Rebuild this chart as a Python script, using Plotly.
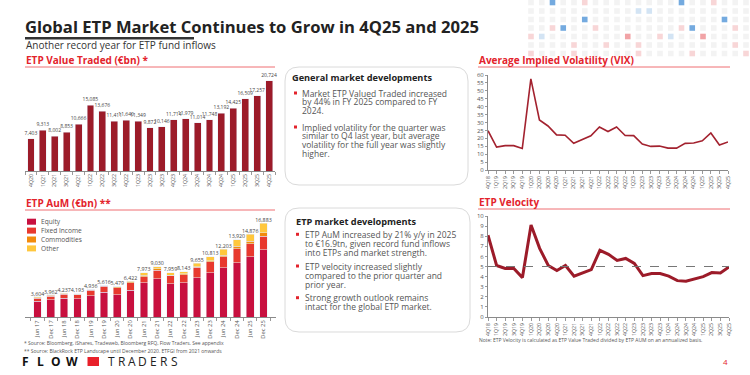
import plotly.graph_objects as go

W, H = 750, 375
FONT = "Open Sans, sans-serif"

# ---------------- data ----------------
vt_quarters = ["4Q20", "1Q21", "2Q21", "3Q21", "4Q21", "1Q22", "2Q22", "3Q22", "4Q22", "1Q23", "2Q23",
               "3Q23", "4Q23", "1Q24", "2Q24", "3Q24", "4Q24", "1Q25", "2Q25", "3Q25", "4Q25"]
value_traded = [7403, 9313, 8002, 8853, 10666, 15085, 13676, 11411, 11640, 11349, 9872,
                10146, 11714, 11979, 11014, 11748, 13192, 14425, 16509, 17257, 20724]

long_quarters = ["4Q18", "1Q19", "2Q19", "3Q19", "4Q19", "1Q20", "2Q20", "3Q20", "4Q20", "1Q21",
                 "2Q21", "3Q21", "4Q21", "1Q22", "2Q22", "3Q22", "4Q22", "1Q23", "2Q23", "3Q23",
                 "4Q23", "1Q24", "2Q24", "3Q24", "4Q24", "1Q25", "2Q25", "3Q25", "4Q25"]
vix = [24.8, 14.5, 15.4, 15.4, 13.6, 57.5, 31.6, 27.8, 22.2, 22.0, 16.9, 19.4, 21.6, 27.2, 24.3,
       27.2, 21.8, 21.7, 16.4, 14.9, 15.1, 13.8, 13.8, 16.8, 17.1, 18.4, 23.4, 15.8, 17.7]
velocity = [8.1, 5.1, 4.8, 4.8, 3.9, 9.1, 6.8, 5.1, 4.6, 5.1, 4.05, 4.35, 4.7, 6.6, 6.2,
            5.6, 5.8, 5.3, 4.1, 4.3, 4.3, 4.05, 3.6, 3.55, 3.8, 4.0, 4.4, 4.35, 4.95]
velocity_reference = 5

aum_periods = ["Jun 17", "Dec 17", "Jun 18", "Dec 18", "Jun 19", "Dec 19", "Jun 20", "Dec 20", "Jun 21",
               "Dec 21", "Jun 22", "Dec 22", "Jun 23", "Dec 23", "Jun 24", "Dec 24", "Jun 25", "Dec 25"]
aum_equity = [2800, 3110, 3350, 3240, 3850, 4430, 4010, 4850, 6150, 6830, 5930, 6110, 7070, 7920, 8810, 9710, 10790, 12100]
aum_fixed_income = [570, 650, 720, 750, 950, 1080, 1260, 1300, 1100, 1550, 1440, 1490, 1850, 2000, 2000, 2520, 2340, 2400]
aum_commodities = [130, 120, 100, 110, 80, 60, 120, 150, 240, 250, 150, 180, 130, 150, 240, 470, 470, 600]
aum_other = [104, 82, 67, 93, 56, 46, 89, 122, 483, 400, 439, 363, 605, 743, 1153, 1220, 1276, 1783]
aum_series_names = ["Equity", "Fixed Income", "Commodities", "Other"]

box1_title = "General market developments"
box1_lines = [("Market ETP Valued Traded increased", True), ("by 44% in FY 2025 compared to FY", False),
              ("2024.", False), ("Implied volatility for the quarter was", True),
              ("similar to Q4 last year, but average", False), ("volatility for the full year was slightly", False),
              ("higher.", False)]
box2_title = "ETP market developments"
box2_lines = [("ETP AuM increased by 21% y/y in 2025", True), ("to €16.9tn, given record fund inflows", False),
              ("into ETPs and market strength.", False), ("ETP velocity increased slightly", True),
              ("compared to the prior quarter and", False), ("prior year.", False),
              ("Strong growth outlook remains", True), ("intact for the global ETP market.", False)]

# ---------------- styles ----------------
DARK_RED = "#9C1B29"
LINE_RED = "#A3222F"
HEAD_RED = "#E3232C"
EQ_C, FI_C, CO_C, OT_C = "#C8103F", "#E8392E", "#F28B0C", "#FFC73D"
aum_colors = [EQ_C, FI_C, CO_C, OT_C]
TXT = "#555555"


def px(x):
    return x / W


def py(y):
    return 1 - y / H


def dom_x(a, b):
    return [px(a), px(b)]


def dom_y(top, bottom):
    return [py(bottom), py(top)]


fig = go.Figure()

# Value traded bars
fig.add_trace(go.Bar(x=vt_quarters, y=value_traded, marker_color=DARK_RED, texttemplate="%{y:,.0f}",
                     textposition="outside", constraintext="none", cliponaxis=False,
                     textfont=dict(size=5, color="#444", family=FONT), xaxis="x", yaxis="y",
                     showlegend=False, hoverinfo="skip"))

# VIX line
fig.add_trace(go.Scatter(x=long_quarters, y=vix, mode="lines", line=dict(color=LINE_RED, width=1.6),
                         xaxis="x2", yaxis="y2", showlegend=False, hoverinfo="skip", cliponaxis=False))

# AuM stacked bars
for name, vals, col in zip(aum_series_names, [aum_equity, aum_fixed_income, aum_commodities, aum_other], aum_colors):
    fig.add_trace(go.Bar(x=aum_periods, y=vals, name=name, marker_color=col, xaxis="x3", yaxis="y3",
                         showlegend=False, hoverinfo="skip"))
aum_total = [a + b + c + d for a, b, c, d in zip(aum_equity, aum_fixed_income, aum_commodities, aum_other)]
fig.add_trace(go.Scatter(x=aum_periods, y=aum_total, mode="text", texttemplate="%{y:,.0f}",
                         textposition="top center", textfont=dict(size=5.3, color="#444", family=FONT),
                         xaxis="x3", yaxis="y3", showlegend=False, hoverinfo="skip", cliponaxis=False))

# Velocity line
fig.add_trace(go.Scatter(x=long_quarters, y=velocity, mode="lines", line=dict(color=DARK_RED, width=3),
                         xaxis="x4", yaxis="y4", showlegend=False, hoverinfo="skip", cliponaxis=False))

tickfont = dict(size=5.2, color=TXT, family=FONT)
common_x = dict(type="category", tickangle=-90, tickfont=tickfont, showline=True, linecolor="#8a8a8a",
                linewidth=1, ticks="outside", ticklen=3, tickcolor="#9a9a9a", showgrid=False,
                zeroline=False, automargin=False, fixedrange=True)

fig.update_layout(
    width=W, height=H, margin=dict(l=0, r=0, t=0, b=0), paper_bgcolor="white", plot_bgcolor="white",
    font=dict(family=FONT), barmode="stack", bargap=0.42, showlegend=False,
    xaxis=dict(domain=dom_x(25, 275), anchor="y", tickson="boundaries", **common_x),
    yaxis=dict(domain=dom_y(75, 171), anchor="x", range=[0, 22000], visible=False, fixedrange=True),
    xaxis2=dict(domain=dom_x(488, 728), anchor="y2", range=[0, 28], **common_x),
    yaxis2=dict(domain=dom_y(75, 170), anchor="x2", range=[0, 60], dtick=5, showline=True, linecolor="#8a8a8a",
                tickfont=dict(size=6, color=TXT, family=FONT), ticks="outside", ticklen=2, tickcolor="#9a9a9a",
                showgrid=False, zeroline=False, automargin=False, fixedrange=True),
    xaxis3=dict(domain=dom_x(25, 276), anchor="y3", tickson="boundaries", **common_x),
    yaxis3=dict(domain=dom_y(214, 317), anchor="x3", range=[0, 18500], visible=False, fixedrange=True),
    xaxis4=dict(domain=dom_x(488, 729), anchor="y4", range=[0, 28], **common_x),
    yaxis4=dict(domain=dom_y(216, 317), anchor="x4", range=[0, 10], dtick=1, showline=True, linecolor="#8a8a8a",
                tickfont=dict(size=6, color=TXT, family=FONT), ticks="outside", ticklen=2, tickcolor="#9a9a9a",
                showgrid=False, zeroline=False, automargin=False, fixedrange=True),
)
fig.update_layout(xaxis3=dict(tickfont=dict(size=5.8)))

shapes = []
annots = []


def text(x, y, s, size, color=TXT, anchor="left", bold=False):
    annots.append(dict(x=px(x), y=py(y), xref="paper", yref="paper", text=("<b>%s</b>" % s) if bold else s,
                       showarrow=False, xanchor=anchor, yanchor="middle", borderpad=0,
                       font=dict(size=size, color=color, family=FONT)))


def rect(x0, y0, x1, y1, color):
    shapes.append(dict(type="rect", xref="paper", yref="paper", x0=px(x0), x1=px(x1), y0=py(y1), y1=py(y0),
                       fillcolor=color, line=dict(width=0), layer="above"))


def hline(x0, x1, y, color, width=1, dash="solid", xref="paper", yref="paper"):
    shapes.append(dict(type="line", xref=xref, yref=yref, x0=x0, x1=x1, y0=y, y1=y,
                       line=dict(color=color, width=width, dash=dash)))


def rounded(x0, y0, x1, y1, r):
    pts = [("M", x0 + r, y0), ("L", x1 - r, y0), ("Q", x1, y0, x1, y0 + r), ("L", x1, y1 - r),
           ("Q", x1, y1, x1 - r, y1), ("L", x0 + r, y1), ("Q", x0, y1, x0, y1 - r), ("L", x0, y0 + r),
           ("Q", x0, y0, x0 + r, y0)]
    path = ""
    for p in pts:
        cmd = p[0]
        coords = p[1:]
        segs = []
        for i in range(0, len(coords), 2):
            segs.append("%.5f,%.5f" % (px(coords[i]), py(coords[i + 1])))
        path += cmd + " ".join(segs) + " "
    shapes.append(dict(type="path", xref="paper", yref="paper", path=path + "Z",
                       line=dict(color="#DADADA", width=1), fillcolor="rgba(0,0,0,0)"))


# decorative squares (top right)
grid_rows = [2.5, 11, 19.5, 28, 36.5, 45, 53.5]
grid_cols = [531 + 10.75 * i for i in range(21)]
BLUE, LBLUE, PINK, RED = "#74AADF", "#D3E4F4", "#F8D6D7", "#F1A3A6"
special = {(0, 2): BLUE, (0, 5): PINK, (0, 14): BLUE, (0, 17): PINK, (1, 10): LBLUE, (1, 11): LBLUE,
           (2, 5): BLUE, (2, 18): BLUE, (3, 2): PINK, (3, 3): BLUE, (3, 6): PINK, (3, 14): PINK,
           (3, 15): BLUE, (3, 19): PINK, (4, 0): PINK, (4, 1): LBLUE, (4, 9): RED, (4, 12): PINK,
           (4, 13): LBLUE, (4, 16): RED, (5, 4): PINK, (5, 7): PINK, (5, 10): PINK, (5, 19): PINK,
           (6, 0): PINK, (6, 4): PINK, (6, 10): PINK, (6, 15): PINK, (6, 20): PINK}
for ri, yy in enumerate(grid_rows):
    for ci, xx in enumerate(grid_cols):
        col = special.get((ri, ci), "#F3F3F3")
        rect(xx - 2.8, yy - 2.8, xx + 2.8, yy + 2.8, col)

# Title
text(24, 27, "Global ETP Market Continues to Grow in 4Q25 and 2025", 16.6, "#222", bold=True)
rect(25, 37, 194, 39.5, "#333333")
text(25, 45.5, "Another record year for ETP fund inflows", 10, "#333")

# Section headers
for (x0, x1, y, label) in [(25, 275, 60, "ETP Value Traded (€bn) *"), (478, 730, 60, "Average Implied Volatility (VIX)"),
                           (25, 275, 203, "ETP AuM (€bn) **"), (478, 730, 202, "ETP Velocity")]:
    text(x0, y, label, 10, HEAD_RED, bold=True)
    hline(px(x0), px(x1), py(y + 7), "#EF6F72", 1)

# AuM legend
for i, (name, col) in enumerate(zip(aum_series_names, aum_colors)):
    yy = 221.7 + i * 8.9
    rect(27, yy - 3, 36, yy + 3, col)
    text(40, yy, name, 6.6, TXT)

# Velocity reference line
hline(0, 1, velocity_reference, "#777777", 1.2, "dash", xref="x4 domain", yref="y4")

# Text boxes
rounded(285, 67, 468, 185, 14)
text(291, 78, box1_title, 9.2, "#222", bold=True)
yy = 93
for s, bullet in box1_lines:
    if bullet and s != box1_lines[0][0]:
        yy += 7.6
    if bullet:
        rect(294, yy - 1.5, 297, yy + 1.5, HEAD_RED)
    text(301, yy, s, 8.5, TXT)
    yy += 8.8

rounded(285, 208, 470, 332, 14)
text(295, 221.7, box2_title, 9.2, "#222", bold=True)
yy = 234.3
for s, bullet in box2_lines:
    if bullet and s != box2_lines[0][0]:
        yy += 4.7
    if bullet:
        rect(296, yy - 1.5, 299, yy + 1.5, HEAD_RED)
    text(304, yy, s, 8.5, TXT)
    yy += 9

# Footnotes
text(23, 343, "* Source: Bloomberg, iShares, Tradeweb, Bloomberg RFQ, Flow Traders. See appendix", 5, "#555")
text(23, 350.5, "** Source: BlackRock ETP Landscape until December 2020. ETFGI from 2021 onwards", 5, "#555")
text(478, 339.5, "Note: ETP Velocity is calculated as ETP Value Traded divided by ETP AUM on an annualized basis.", 5, "#555")

# Logo
for i, ch in enumerate("FLOW"):
    text(25 + i * 15.5, 361.5, ch, 12, "#111", anchor="center", bold=True)
rect(87.5, 357, 99, 366, "#E8202A")
for i, ch in enumerate("TRADERS"):
    text(111 + i * 10.5, 361.5, ch, 12, "#222", anchor="center")

text(725, 361.5, "4", 8, HEAD_RED, anchor="center")

fig.update_layout(shapes=shapes, annotations=annots)
fig.write_html("out.html", config={"displayModeBar": False},
               post_script="document.body.style.margin='0';document.body.style.padding='0';")
